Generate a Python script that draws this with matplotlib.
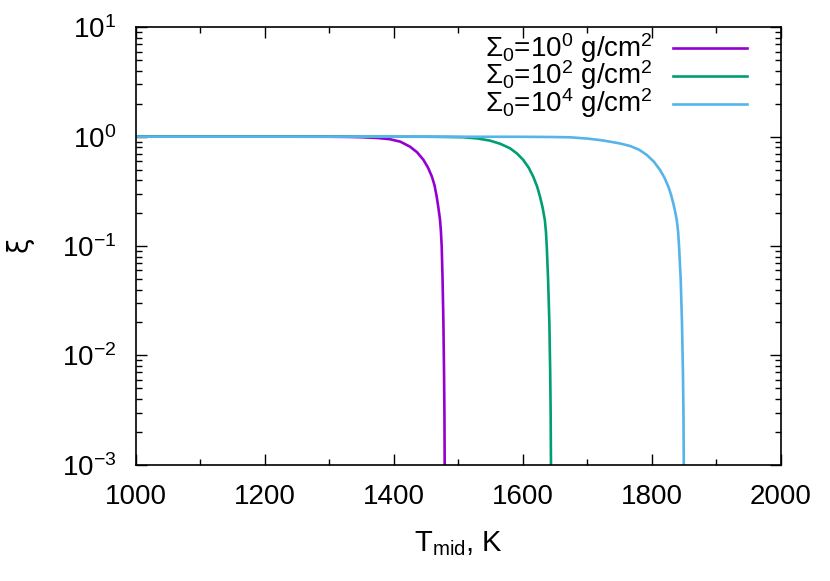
import numpy as np
import matplotlib
matplotlib.use("Agg")
import matplotlib.pyplot as plt
from matplotlib.lines import Line2D
from matplotlib.ticker import LogLocator, MultipleLocator, FuncFormatter, NullFormatter

plt.rcParams['font.family'] = ['Liberation Sans', 'DejaVu Sans']
plt.rcParams['mathtext.fontset'] = 'custom'
plt.rcParams['mathtext.rm'] = 'Liberation Sans'
plt.rcParams['mathtext.it'] = 'Liberation Sans'
plt.rcParams['mathtext.default'] = 'regular'

# values: T_mid (K) and xi
t_s0 = [1000, 1200, 1300, 1330, 1352, 1375, 1394, 1410, 1425, 1436, 1446, 1453, 1459, 1463,
        1466.4, 1469, 1471.6, 1473, 1474.2, 1475.5, 1476.8, 1477.8, 1478.4, 1478.8]
xi_s0 = [1.0, 1.0, 0.998, 0.994, 0.987, 0.972, 0.947, 0.9, 0.81, 0.72, 0.612, 0.52, 0.431, 0.36,
         0.283, 0.225, 0.173, 0.135, 0.0986, 0.05, 0.02, 0.007, 0.003, 0.001]

t_s2 = [1000, 1300, 1450, 1480, 1508, 1530, 1549, 1565, 1580, 1591, 1600.6, 1609, 1616, 1622,
        1626.5, 1630.5, 1634, 1635.7, 1637, 1639, 1641, 1642.3, 1643, 1643.5]
xi_s2 = [1.0, 1.0, 0.998, 0.994, 0.987, 0.962, 0.92, 0.86, 0.783, 0.7, 0.612, 0.52, 0.431, 0.35,
         0.283, 0.225, 0.173, 0.135, 0.0986, 0.05, 0.02, 0.007, 0.003, 0.001]

t_s4 = [1000, 1400, 1600, 1640, 1672, 1700, 1720, 1735, 1751, 1766, 1780, 1792, 1803, 1812.5,
        1819.5, 1825.4, 1829.5, 1833, 1836, 1838.4, 1840.5, 1842, 1844.5, 1846.5, 1848, 1848.8, 1849.3]
xi_s4 = [1.0, 1.0, 0.997, 0.993, 0.987, 0.96, 0.93, 0.9, 0.865, 0.822, 0.76, 0.68, 0.59, 0.496,
         0.42, 0.349, 0.295, 0.246, 0.205, 0.173, 0.135, 0.0986, 0.05, 0.02, 0.007, 0.003, 0.001]

labels = [r'$\Sigma_0$=10$^0$ g/cm$^2$', r'$\Sigma_0$=10$^2$ g/cm$^2$', r'$\Sigma_0$=10$^4$ g/cm$^2$']
colors = ['#9400d3', '#009e73', '#56b4e9']

fig = plt.figure(figsize=(8.3, 5.81), dpi=100)
ax = fig.add_axes([0.1635, 0.2002, 0.7775, 0.7528])

for t, xi, c in zip([t_s0, t_s2, t_s4], [xi_s0, xi_s2, xi_s4], colors):
    ax.plot(t, xi, color=c, lw=1.9)

ax.set_yscale('log')
ax.set_xlim(1000, 2000)
ax.set_ylim(1e-3, 1e1)
ax.xaxis.set_major_locator(MultipleLocator(200))
ax.xaxis.set_minor_locator(MultipleLocator(100))
ax.yaxis.set_major_locator(LogLocator(base=10, numticks=10))
ax.yaxis.set_minor_locator(LogLocator(base=10, subs=np.arange(2, 10), numticks=10))
ax.yaxis.set_minor_formatter(NullFormatter())
ax.yaxis.set_major_formatter(FuncFormatter(lambda v, p: r'10$^{%d}$' % round(np.log10(v))))

ax.tick_params(which='both', direction='in', top=True, right=True, labelsize=20, width=1)
ax.tick_params(which='major', length=8)
ax.tick_params(which='minor', length=4)
ax.tick_params(axis='x', pad=14)
ax.tick_params(axis='y', pad=14)
for s in ax.spines.values():
    s.set_linewidth(1.2)

ax.set_xlabel(r'T$_{mid}$, K', fontsize=21, labelpad=14)
ax.set_ylabel(r'$\xi$', fontsize=20, labelpad=18, family='DejaVu Sans')

# key, drawn gnuplot style: text right aligned, sample line to the right
baselines = [0.9024, 0.8554, 0.8077]
centers = [0.9169, 0.8692, 0.8210]
for lab, c, yb, yc in zip(labels, colors, baselines, centers):
    fig.text(0.7867, yb, lab, ha='right', va='baseline', fontsize=20)
    fig.add_artist(Line2D([0.8108, 0.9], [yc, yc], color=c, lw=1.9, transform=fig.transFigure))

fig.savefig('out.png', dpi=100)
